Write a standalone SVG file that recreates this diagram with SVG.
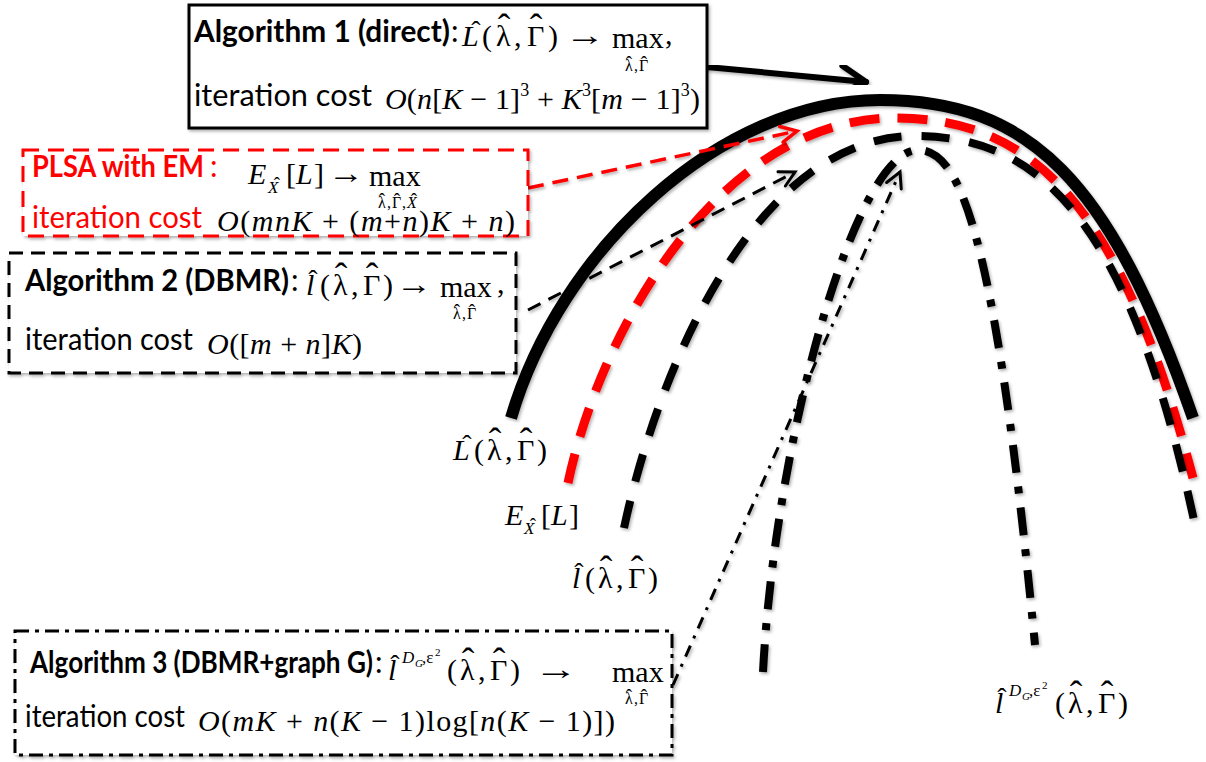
<svg xmlns="http://www.w3.org/2000/svg" width="1206" height="762" viewBox="0 0 1206 762">
<defs>
<filter id="sh" x="-10%" y="-10%" width="130%" height="130%">
<feDropShadow dx="1.5" dy="2" stdDeviation="1.5" flood-color="#000" flood-opacity="0.3"/>
</filter>
<marker id="ahBig" markerUnits="userSpaceOnUse" viewBox="-30 -20 40 40" markerWidth="40" markerHeight="40" refX="0" refY="0" orient="auto" overflow="visible">
<path d="M-25,-14 L0,0 L-25,14" fill="none" stroke="#000" stroke-width="6" stroke-linecap="round" stroke-linejoin="round"/>
</marker>
<marker id="ahRed" markerUnits="userSpaceOnUse" viewBox="-20 -15 30 30" markerWidth="30" markerHeight="30" refX="0" refY="0" orient="auto" overflow="visible">
<path d="M-16,-8 L0,0 L-16,8" fill="none" stroke="#f00" stroke-width="3.5" stroke-linecap="round"/>
</marker>
<marker id="ahBlk" markerUnits="userSpaceOnUse" viewBox="-20 -15 30 30" markerWidth="30" markerHeight="30" refX="0" refY="0" orient="auto" overflow="visible">
<path d="M-15,-8 L0,0 L-15,8" fill="none" stroke="#000" stroke-width="3" stroke-linecap="round"/>
</marker>
</defs>
<style>
.lbl{font-family:Lato,"Liberation Sans",sans-serif;font-size:30px;fill:#000}
.b{font-weight:bold}
.red{fill:#f00}
.m{font-family:"Liberation Serif","Times New Roman",serif;font-size:30px;fill:#000}
.i{font-style:italic}
.sub{font-size:16px}
.hat{font-family:"Liberation Serif","Times New Roman",serif;font-size:38px;text-anchor:middle;fill:#000}
.hs{font-size:28px}
.hx{font-size:19px}
.box{fill:#fff;stroke-width:3}
.curve{fill:none;filter:url(#sh)}
</style>
<rect width="1206" height="762" fill="#fff"/>

<g id="connectors">
<path class="curve" d="M 511 418 C 560 250 720 100 880 100 C 1030 100 1110 180 1193 418" stroke="#000" stroke-width="12"/>
<path class="curve" d="M 568 483 C 600 330 720 118 895 118 C 1030 118 1120 200 1193 478" stroke="#f00" stroke-width="9" stroke-dasharray="30 18"/>
<path class="curve" d="M 624 528 C 660 360 760 136 915 136 C 1040 136 1130 220 1195 525" stroke="#000" stroke-width="8" stroke-dasharray="28 20"/>
<path class="curve" d="M 763 672 C 775 440 855 150 918 150 C 960 150 995 230 1035 645" stroke="#000" stroke-width="8" stroke-dasharray="28 14 7 14"/>
<path class="curve" d="M 707 67 L 866 82" stroke="#000" stroke-width="6" stroke-linecap="round" marker-end="url(#ahBig)"/>
<path class="curve" d="M 528 188 L 797 131" stroke="#f00" stroke-width="3.5" stroke-dasharray="16 9" marker-end="url(#ahRed)"/>
<path class="curve" d="M 528 310 L 795 172" stroke="#000" stroke-width="3" stroke-dasharray="14 9" marker-end="url(#ahBlk)"/>
<path class="curve" d="M 673 685 L 900 172" stroke="#000" stroke-width="3" stroke-dasharray="12 8 3 8" marker-end="url(#ahBlk)"/>
</g>

<g id="algo1">
<rect class="box" x="189" y="5" width="518" height="123" stroke="#000" filter="url(#sh)"/>
<text class="lbl b" x="194" y="42" textLength="256" lengthAdjust="spacingAndGlyphs">Algorithm 1 (direct)</text>
<text class="lbl" x="451" y="42">:</text>
<text class="m" y="46"><tspan class="i" x="462">L</tspan><tspan x="482">(</tspan><tspan x="496">λ</tspan><tspan x="514">,</tspan><tspan x="527">Γ</tspan><tspan x="548">)</tspan></text>
<text class="hat" y="44"><tspan class="hs" x="476" y="40">ˆ</tspan><tspan x="504">ˆ</tspan><tspan x="536">ˆ</tspan></text>
<text class="m" x="565" y="45" textLength="40" lengthAdjust="spacingAndGlyphs">→</text>
<text class="m" x="612" y="48" font-size="28">max</text>
<text class="m sub" y="71"><tspan x="625">λ</tspan><tspan x="634">,</tspan><tspan x="639">Γ</tspan></text>
<text class="hat hx" y="69"><tspan x="629">ˆ</tspan><tspan x="644">ˆ</tspan></text>
<text class="m" x="665" y="44">,</text>
<text class="lbl" x="194" y="106" textLength="178" lengthAdjust="spacingAndGlyphs">iteration cost</text>
<text class="m" x="385" y="109" textLength="315" lengthAdjust="spacing"><tspan class="i">O</tspan>(<tspan class="i">n</tspan>[<tspan class="i">K</tspan> − 1]<tspan font-size="18" dy="-13">3</tspan><tspan dy="13"> + </tspan><tspan class="i">K</tspan><tspan font-size="18" dy="-13">3</tspan><tspan dy="13">[</tspan><tspan class="i">m</tspan> − 1]<tspan font-size="18" dy="-13">3</tspan><tspan dy="13">)</tspan></text>
</g>

<g id="plsa">
<rect class="box" x="23" y="150" width="505" height="86" stroke="#f00" stroke-width="3.5" stroke-dasharray="16 9" filter="url(#sh)"/>
<text class="lbl b red" x="32" y="177" textLength="172" lengthAdjust="spacingAndGlyphs">PLSA with EM</text>
<text class="lbl red" x="210" y="177">:</text>
<text class="m" y="184"><tspan class="i" x="248">E</tspan><tspan class="i" font-size="17" x="268" y="193">X</tspan><tspan x="286" y="184">[</tspan><tspan class="i" x="296">L</tspan><tspan x="314">]</tspan></text>
<text class="hat hx" x="277" y="190">ˆ</text>
<text class="m" x="328" y="183" textLength="36" lengthAdjust="spacingAndGlyphs">→</text>
<text class="m" x="369" y="186" font-size="28">max</text>
<text class="m sub" y="208"><tspan x="378">λ</tspan><tspan x="387">,</tspan><tspan x="392">Γ</tspan><tspan x="402">,</tspan><tspan class="i" x="407">X</tspan></text>
<text class="hat hx" y="206"><tspan x="382">ˆ</tspan><tspan x="397">ˆ</tspan><tspan x="414">ˆ</tspan></text>
<text class="lbl red" x="32" y="228" textLength="170" lengthAdjust="spacingAndGlyphs">iteration cost</text>
<text class="m" x="217" y="231" textLength="298" lengthAdjust="spacing"><tspan class="i">O</tspan>(<tspan class="i">mnK</tspan> + (<tspan class="i">m</tspan>+<tspan class="i">n</tspan>)<tspan class="i">K</tspan> + <tspan class="i">n</tspan>)</text>
</g>

<g id="algo2">
<rect class="box" x="9" y="253" width="507" height="120" stroke="#000" stroke-dasharray="14 8" filter="url(#sh)"/>
<text class="lbl b" x="25" y="291" textLength="264" lengthAdjust="spacingAndGlyphs">Algorithm 2 (DBMR)</text>
<text class="lbl" x="291" y="291">:</text>
<text class="m" y="295"><tspan class="i" x="306">l</tspan><tspan x="320">(</tspan><tspan x="333">λ</tspan><tspan x="351">,</tspan><tspan x="363">Γ</tspan><tspan x="383">)</tspan></text>
<text class="hat" y="293"><tspan class="hs" x="313" y="289">ˆ</tspan><tspan x="341">ˆ</tspan><tspan x="372">ˆ</tspan></text>
<text class="m" x="396" y="294" textLength="36" lengthAdjust="spacingAndGlyphs">→</text>
<text class="m" x="440" y="297" font-size="28">max</text>
<text class="m sub" y="319"><tspan x="453">λ</tspan><tspan x="462">,</tspan><tspan x="467">Γ</tspan></text>
<text class="hat hx" y="317"><tspan x="457">ˆ</tspan><tspan x="472">ˆ</tspan></text>
<text class="m" x="497" y="293">,</text>
<text class="lbl" x="25" y="350" textLength="168" lengthAdjust="spacingAndGlyphs">iteration cost</text>
<text class="m" x="207" y="354" textLength="155" lengthAdjust="spacing"><tspan class="i">O</tspan>([<tspan class="i">m</tspan> + <tspan class="i">n</tspan>]<tspan class="i">K</tspan>)</text>
</g>

<g id="algo3">
<rect class="box" x="15" y="631" width="657" height="124" stroke="#000" stroke-dasharray="14 6 4 6" filter="url(#sh)"/>
<text class="lbl b" x="30" y="673" textLength="343" lengthAdjust="spacingAndGlyphs">Algorithm 3 (DBMR+graph G)</text>
<text class="lbl" x="375" y="673">:</text>
<text class="m" y="680"><tspan class="i" x="388">l</tspan><tspan class="i" font-size="17" x="402" y="663">D</tspan><tspan class="i" font-size="11" x="415" y="667">G</tspan><tspan font-size="17" x="422" y="663">,ε</tspan><tspan font-size="11" x="435" y="656">2</tspan><tspan x="447" y="680">(</tspan><tspan x="460">λ</tspan><tspan x="478">,</tspan><tspan x="490">Γ</tspan><tspan x="510">)</tspan></text>
<text class="hat" y="678"><tspan class="hs" x="395" y="674">ˆ</tspan><tspan x="468">ˆ</tspan><tspan x="499">ˆ</tspan></text>
<text class="m" x="534" y="679" textLength="44" lengthAdjust="spacingAndGlyphs">→</text>
<text class="m" x="612" y="682" font-size="28">max</text>
<text class="m sub" y="704"><tspan x="625">λ</tspan><tspan x="634">,</tspan><tspan x="639">Γ</tspan></text>
<text class="hat hx" y="702"><tspan x="629">ˆ</tspan><tspan x="644">ˆ</tspan></text>
<text class="lbl" x="25" y="727" textLength="160" lengthAdjust="spacingAndGlyphs">iteration cost</text>
<text class="m" x="198" y="731" textLength="417" lengthAdjust="spacing"><tspan class="i">O</tspan>(<tspan class="i">mK</tspan> + <tspan class="i">n</tspan>(<tspan class="i">K</tspan> − 1)log[<tspan class="i">n</tspan>(<tspan class="i">K</tspan> − 1)])</text>
</g>

<g id="labels">
<text class="m" y="460"><tspan class="i" x="453">L</tspan><tspan x="474">(</tspan><tspan x="487">λ</tspan><tspan x="505">,</tspan><tspan x="517">Γ</tspan><tspan x="537">)</tspan></text>
<text class="hat" y="458"><tspan class="hs" x="467" y="454">ˆ</tspan><tspan x="495">ˆ</tspan><tspan x="526">ˆ</tspan></text>
<text class="m" y="525"><tspan class="i" x="505">E</tspan><tspan class="i" font-size="17" x="524" y="534">X</tspan><tspan x="541" y="525">[</tspan><tspan class="i" x="551">L</tspan><tspan x="569">]</tspan></text>
<text class="hat hx" x="533" y="531">ˆ</text>
<text class="m" y="588"><tspan class="i" x="572">l</tspan><tspan x="585">(</tspan><tspan x="598">λ</tspan><tspan x="616">,</tspan><tspan x="628">Γ</tspan><tspan x="648">)</tspan></text>
<text class="hat" y="586"><tspan class="hs" x="579" y="582">ˆ</tspan><tspan x="606">ˆ</tspan><tspan x="637">ˆ</tspan></text>
<text class="m" y="713"><tspan class="i" x="995">l</tspan><tspan class="i" font-size="17" x="1009" y="696">D</tspan><tspan class="i" font-size="11" x="1022" y="700">G</tspan><tspan font-size="17" x="1029" y="696">,ε</tspan><tspan font-size="11" x="1042" y="689">2</tspan><tspan x="1055" y="713">(</tspan><tspan x="1068">λ</tspan><tspan x="1086">,</tspan><tspan x="1098">Γ</tspan><tspan x="1118">)</tspan></text>
<text class="hat" y="711"><tspan class="hs" x="1002" y="707">ˆ</tspan><tspan x="1076">ˆ</tspan><tspan x="1107">ˆ</tspan></text>
</g>
</svg>
